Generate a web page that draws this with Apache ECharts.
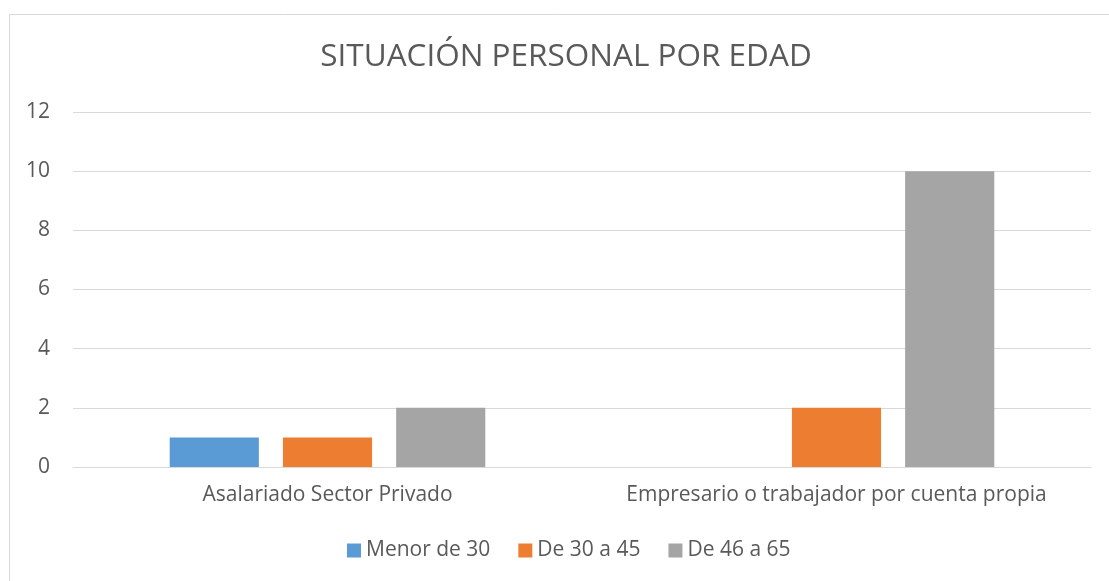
<!DOCTYPE html>
<html>
<head>
<meta charset="utf-8">
<script src="https://cdn.jsdelivr.net/npm/echarts@6/dist/echarts.min.js"></script>
<style>
  html, body { margin: 0; padding: 0; background: #fff; }
  #chart-container { width: 1109px; height: 581px; }
</style>
</head>
<body>
<div id="chart-container"></div>
<script>
var dom = document.getElementById("chart-container");
var myChart = echarts.init(dom, null, { renderer: "canvas" });

const categories = ["Asalariado Sector Privado", "Empresario o trabajador por cuenta propia"];
const seriesNames = ["Menor de 30", "De 30 a 45", "De 46 a 65"];
const menor30 = [1, 0];
const de30a45 = [1, 2];
const de46a65 = [2, 10];
const colors = ["#5B9BD5", "#ED7D31", "#A5A5A5"];

const textColor = "#595959";
const font = "'Open Sans', 'Noto Sans', sans-serif";

const values = [menor30, de30a45, de46a65];

var option = {
  animation: false,
  textStyle: { fontFamily: font },
  graphic: [
    {
      // chart area border
      type: "rect",
      shape: { x: 9.5, y: 14.5, width: 1110, height: 580 },
      style: { fill: null, stroke: "#d9d9d9", lineWidth: 1 },
      silent: true,
    },
  ],
  title: {
    text: "SITUACIÓN PERSONAL POR EDAD",
    left: 561,
    top: 36,
    textAlign: "center",
    textStyle: { fontSize: 31.5, fontWeight: "normal", color: textColor, fontFamily: font },
  },
  legend: {
    bottom: 15,
    left: 342,
    itemWidth: 14,
    itemHeight: 14,
    itemGap: 28,
    icon: "rect",
    textStyle: { fontSize: 21, color: textColor, fontFamily: font },
    data: seriesNames,
  },
  grid: { left: 73, right: 18, top: 112, bottom: 114, containLabel: false },
  xAxis: {
    type: "category",
    data: categories,
    axisLine: { lineStyle: { color: "#d9d9d9", width: 1 } },
    axisTick: { show: false },
    axisLabel: { interval: 0, fontSize: 21, color: textColor, margin: 18, fontFamily: font },
  },
  yAxis: {
    type: "value",
    min: 0,
    max: 12,
    interval: 2,
    axisLine: { show: false },
    axisTick: { show: false },
    splitLine: { lineStyle: { color: "#d9d9d9", width: 1 } },
    axisLabel: { fontSize: 21, color: textColor, margin: 23, fontFamily: font },
  },
  series: seriesNames.map(function (name, i) {
    return {
      name: name,
      type: "bar",
      data: values[i],
      barGap: "27%",
      barCategoryGap: "38%",
      itemStyle: { color: colors[i] },
    };
  }),
};

myChart.setOption(option);
window.addEventListener("resize", myChart.resize);
</script>
</body>
</html>
